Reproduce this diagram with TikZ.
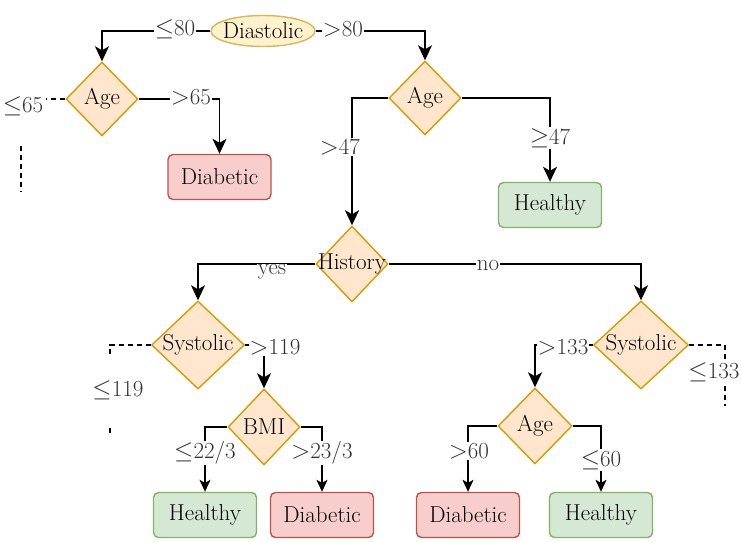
\documentclass[tikz,border=0pt]{standalone}
\usepackage{fontspec}
\usepackage{tikz}
\usetikzlibrary{
    shapes.geometric,
    arrows.meta
}
\definecolor{decfill}{HTML}{FFE6CC}
\definecolor{decline}{HTML}{D79B00}
\definecolor{rootfill}{HTML}{FFF2CC}
\definecolor{rootline}{HTML}{D6B656}
\definecolor{sickfill}{HTML}{F8CECC}
\definecolor{sickline}{HTML}{B85450}
\definecolor{wellfill}{HTML}{D5E8D4}
\definecolor{wellline}{HTML}{82B366}

\begin{document}
\begin{tikzpicture}[x=1pt,y=-1pt,
    font=\rmfamily\fontsize{23}{26}\selectfont,
    dec/.style={diamond,draw=decline,fill=decfill,line width=1.4pt,inner sep=0pt,
        minimum width=72pt,minimum height=74pt},
    bigdec/.style={dec,minimum width=93pt,minimum height=88pt},
    root/.style={ellipse,draw=rootline,fill=rootfill,line width=1.4pt,inner sep=0pt,
        minimum width=104pt,minimum height=31pt},
    sick/.style={rectangle,rounded corners=5pt,draw=sickline,fill=sickfill,line width=1.4pt,
        minimum width=103pt,minimum height=45pt,text=black},
    well/.style={sick,draw=wellline,fill=wellfill},
    lbl/.style={fill=white,inner sep=1pt,text=black!80},
    conn/.style={line width=1.8pt,-{Stealth[length=15pt,width=14pt,inset=4pt]}},
    small/.style={line width=1.3pt,-{Stealth[length=12pt,width=11pt,inset=3pt]}},
    cut/.style={line width=1.5pt,dash pattern=on 5pt off 4pt}]

\useasboundingbox (0,0) rectangle (741,541);

% nodes
\node[root,label={[text=black]center:Diastolic}] (dia) at (263,31) {};
\node[dec,label={[text=black]center:Age}] (age1) at (102,99) {};
\node[dec,label={[text=black]center:Age}] (age2) at (425,98) {};
\node[sick] (diab1) at (219.5,177) {Diabetic};
\node[well] (heal1) at (550,205) {Healthy};
\node[dec,minimum height=76pt,label={[text=black]center:History}] (hist) at (352,264) {};
\node[bigdec,label={[text=black]center:Systolic}] (sys1) at (198,345) {};
\node[bigdec,minimum width=95pt,label={[text=black]center:Systolic}] (sys2) at (641,345) {};
\node[dec,minimum height=76pt,label={[text=black]center:BMI}] (bmi) at (264,427) {};
\node[dec,minimum width=74pt,minimum height=76pt,label={[text=black]center:Age}] (age3) at (535,426) {};
\node[well] (heal2) at (205,515) {Healthy};
\node[sick] (diab2) at (322,515) {Diabetic};
\node[sick] (diab3) at (468,515) {Diabetic};
\node[well] (heal3) at (601,515) {Healthy};

% connectors
\draw[conn] (dia.west) -| (age1.north);
\draw[conn] (dia.east) -| (age2.north);
\draw[conn] (age1.east) -| (diab1.north);
\draw[conn,line width=2.4pt] (age2.west) -| (hist.north);
\draw[conn] (age2.east) -| (heal1.north);
\draw[conn] (hist.west) -| (sys1.north);
\draw[conn] (hist.east) -| (sys2.north);
\draw[conn] (sys1.east) -| (bmi.north);
\draw[conn] (sys2.west) -| (age3.north);
\draw[small] (bmi.west) -| (heal2.north);
\draw[small] (bmi.east) -| (diab2.north);
\draw[small] (age3.west) -| (diab3.north);
\draw[small] (age3.east) -| (heal3.north);

% cut branches
\coordinate (c65) at (46,99);
\coordinate (c65a) at (21,146);
\coordinate (c65b) at (21,192);
\draw[cut] (age1.west) -- (c65);
\draw[cut] (c65a) -- (c65b);
\coordinate (c119) at (110,345);
\coordinate (c119a) at (110,354);
\coordinate (c119b) at (110,428);
\coordinate (c119c) at (110,435);
\draw[cut] (sys1.west) -- (c119) -- (c119a);
\draw[cut] (c119b) -- (c119c);
\coordinate (c133) at (725,345);
\coordinate (c133a) at (725,360);
\coordinate (c133b) at (725,386);
\coordinate (c133c) at (725,406);
\draw[cut] (sys2.east) -- (c133) -- (c133a);
\draw[cut] (c133b) -- (c133c);

% branch labels
\node[lbl] (l80a) at (175,29) {$\leq$80};
\node[lbl] (l80b) at (343,29) {$>$80};
\node[lbl] (l65a) at (23,106) {$\leq$65};
\node[lbl] (l65b) at (191,97) {$>$65};
\node[lbl] (l47a) at (340,147) {$>$47};
\node[lbl] (l47b) at (550,138) {$\geq$47};
\node[lbl] (lyes) at (272,272) {yes};
\node[lbl] (lno) at (488,266) {no};
\node[lbl] (l119a) at (118,390) {$\leq$119};
\node[lbl] (l119b) at (275,347) {$>$119};
\node[lbl] (l133a) at (563,347) {$>$133};
\node[lbl,inner sep=0pt] (l133b) at (714,372) {$\leq$133};
\node[lbl] (l22) at (205,453) {$\leq$22/3};
\node[lbl] (l23) at (322,453) {$>$23/3};
\node[lbl] (l60a) at (469,451) {$>$60};
\node[lbl] (l60b) at (601,460) {$\leq$60};

\end{tikzpicture}
\end{document}
